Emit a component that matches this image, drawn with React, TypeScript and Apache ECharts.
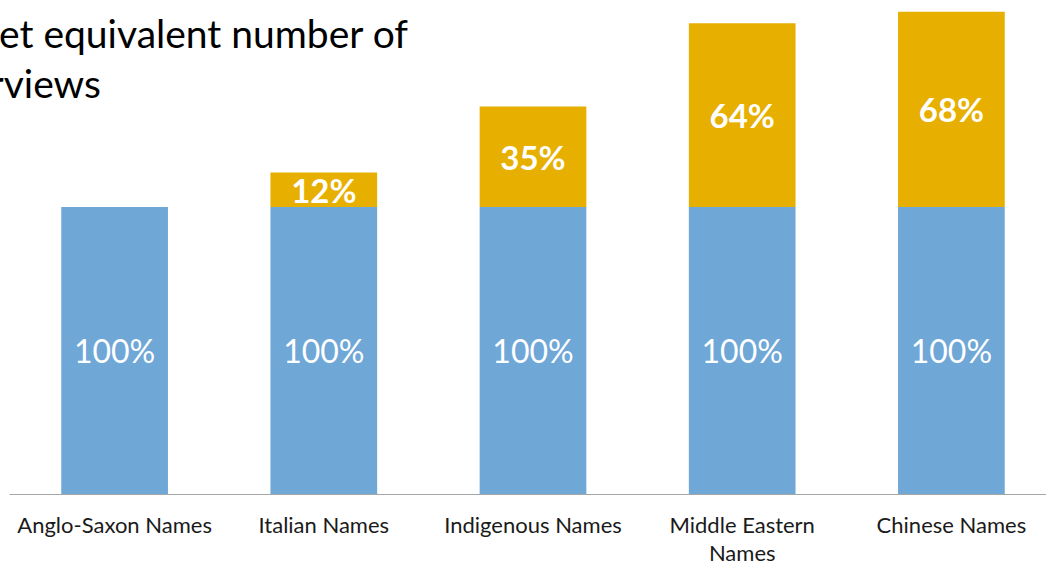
import React, { useEffect, useRef } from "react";
import * as echarts from "echarts";

const categories = ["Anglo-Saxon Names", "Italian Names", "Indigenous Names", "Middle Eastern\nNames", "Chinese Names"];
const baseValues = [100, 100, 100, 100, 100];
const extraValues = [0, 12, 35, 64, 68];
const titleLine1 = "Applications needed to get equivalent number of";
const titleLine2 = "interviews";

const FONT = "Lato";

export default function App() {
  const ref = useRef<HTMLDivElement>(null);
  useEffect(() => {
    const chart = echarts.init(ref.current!, null, { renderer: "svg" });
    chart.setOption({
      animation: false,
      grid: { left: 10, width: 1046, top: 6, height: 488, containLabel: false, outerBoundsMode: "none" },
      xAxis: {
        type: "category",
        data: categories,
        axisLine: { lineStyle: { color: "#A6A6A6", width: 1 } },
        axisTick: { show: false },
        axisLabel: { interval: 0, color: "#1a1a1a", fontFamily: FONT, fontSize: 22, margin: 16, lineHeight: 28 },
      },
      yAxis: { type: "value", min: 0, max: 170, show: false, splitLine: { show: false } },
      series: [
        {
          type: "bar",
          stack: "s",
          data: baseValues,
          barWidth: "51%",
          itemStyle: { color: "#6FA7D7" },
          label: {
            show: true,
            position: "inside",
            formatter: "{c}%",
            color: "#fff",
            fontFamily: FONT,
            fontSize: 32,
          },
        },
        {
          type: "bar",
          stack: "s",
          data: extraValues,
          barWidth: "51%",
          itemStyle: { color: "#E7AF00" },
          label: {
            show: true,
            position: "inside",
            formatter: (p: any) => (p.value > 0 ? p.value + "%" : ""),
            color: "#fff",
            fontFamily: FONT,
            fontWeight: "bold",
            fontSize: 33,
          },
        },
      ],
      graphic: [
        {
          type: "text",
          x: 408,
          y: 13,
          style: { text: titleLine1, fill: "#000", font: `39px ${FONT}`, textAlign: "right" },
        },
        {
          type: "text",
          x: 101,
          y: 63,
          style: { text: titleLine2, fill: "#000", font: `39px ${FONT}`, textAlign: "right" },
        },
      ],
    });
    return () => chart.dispose();
  }, []);
  return <div ref={ref} style={{ width: 1046, height: 568, position: "absolute", left: 0, top: 0 }} />;
}
